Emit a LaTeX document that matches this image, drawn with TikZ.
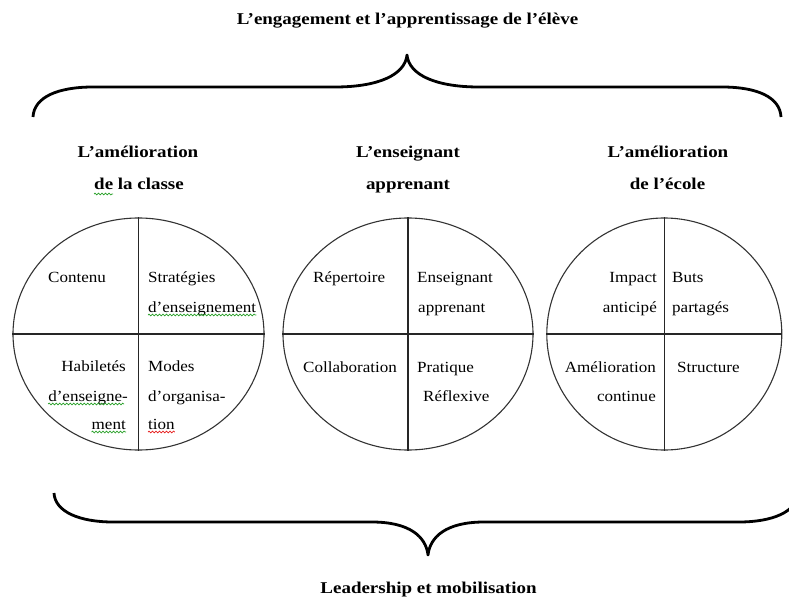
\documentclass[tikz,border=0pt]{standalone}
\usepackage{fontspec}
\setmainfont{Liberation Serif}
\newfontfamily\hdfont[FakeStretch=1.15]{Liberation Serif Bold}
\newfontfamily\cellfont[FakeStretch=1.1]{Liberation Serif}
\usetikzlibrary{shapes.geometric,decorations.pathmorphing}
\definecolor{spgreen}{RGB}{40,160,40}
\definecolor{spred}{RGB}{230,30,30}
\begin{document}
\begin{tikzpicture}[x=1pt,y=-1pt,
  head/.style={font=\hdfont\fontsize{16.5}{20}\selectfont, inner sep=0pt},
  cell/.style={font=\cellfont\fontsize{15.5}{19}\selectfont, inner sep=0pt},
  quad/.style={draw=black!80, line width=1.1pt, ellipse, inner sep=0pt, minimum height=232pt},
  divider/.style={draw=black!85, line width=1.1pt},
  bracestyle/.style={line width=2.8pt, line join=round},
  squig/.style={decorate, decoration={snake,amplitude=0.9pt,segment length=3.5pt}, line width=0.7pt, draw=spgreen},
  squigred/.style={squig, draw=spred}]

\useasboundingbox (0,0) rectangle (789,599);
\clip (0,0) rectangle (789,599);

% titles
\node[head, anchor=base] (title) at (407.5,25) {L’engagement et l’apprentissage de l’élève};
\node[head, anchor=base] (lead) at (428.5,593) {Leadership et mobilisation};

% braces
\draw[bracestyle] (33,117) .. controls (34,97) and (58,87) .. (93,87) -- (335,87)
  .. controls (378,87) and (405,75) .. (407,55)
  .. controls (409,75) and (436,87) .. (479,87) -- (722,87)
  .. controls (757,87) and (780,97) .. (781,117);
\draw[bracestyle] (54,493) .. controls (55,512) and (80,522) .. (113,522) -- (372,522)
  .. controls (410,522) and (426,537) .. (428,555)
  .. controls (430,537) and (446,522) .. (484,522) -- (739,522)
  .. controls (772,522) and (797,512) .. (798,493);

% ellipses
\node[quad, minimum width=251pt] (e1) at (138.5,334) {};
\node[quad, minimum width=250pt] (e2) at (408,334) {};
\node[quad, minimum width=235pt] (e3) at (664.3,334) {};
\foreach \e in {e1,e2,e3}{
  \draw[divider] (\e.north) -- (\e.south);
  \draw[divider] (\e.west) -- (\e.east);
}

% headings
\node[head, anchor=base] (h1a) at (138,157) {L’amélioration};
\node[head, anchor=base] (h1b) at (139,189) {de la classe};
\node[head, anchor=base] (h2a) at (408,157) {L’enseignant};
\node[head, anchor=base] (h2b) at (408,189) {apprenant};
\node[head, anchor=base] (h3a) at (668,157) {L’amélioration};
\node[head, anchor=base] (h3b) at (667.5,189) {de l’école};

% left circle
\node[cell, anchor=base west] (a1) at (48,282) {Contenu};
\node[cell, anchor=base west] (a2) at (148,282) {Stratégies};
\node[cell, anchor=base west] (a3) at (148,312) {d’enseignement};
\node[cell, anchor=base east] (a4) at (126,371) {Habiletés};
\node[cell, anchor=base east] (a5) at (128,401) {d’enseigne-};
\node[cell, anchor=base east] (a6) at (126,429) {ment};
\node[cell, anchor=base west] (a7) at (148,371) {Modes};
\node[cell, anchor=base west] (a8) at (148,401) {d’organisa-};
\node[cell, anchor=base west] (a9) at (148,429) {tion};

% middle circle
\node[cell, anchor=base west] (b1) at (313,282) {Répertoire};
\node[cell, anchor=base west] (b2) at (417,282) {Enseignant};
\node[cell, anchor=base west] (b3) at (418,312) {apprenant};
\node[cell, anchor=base west] (b4) at (303,372) {Collaboration};
\node[cell, anchor=base west] (b5) at (417,372) {Pratique};
\node[cell, anchor=base west] (b6) at (423,401) {Réflexive};

% right circle
\node[cell, anchor=base east] (c1) at (657,282) {Impact};
\node[cell, anchor=base east] (c2) at (657,312) {anticipé};
\node[cell, anchor=base west] (c3) at (672,282) {Buts};
\node[cell, anchor=base west] (c4) at (672,312) {partagés};
\node[cell, anchor=base east] (c5) at (656,372) {Amélioration};
\node[cell, anchor=base east] (c6) at (656,401) {continue};
\node[cell, anchor=base west] (c7) at (677,372) {Structure};

% spelling marks
\draw[squig] ([shift={(0,5)}]h1b.base west) -- ([shift={(19,5)}]h1b.base west);
\draw[squig] ([shift={(0,3)}]a3.base west) -- ([shift={(0,3)}]a3.base east);
\draw[squig] ([shift={(0,3)}]a5.base west) -- ([shift={(-4,3)}]a5.base east);
\draw[squig] ([shift={(0,3)}]a6.base west) -- ([shift={(0,3)}]a6.base east);
\draw[squigred] ([shift={(0,3)}]a9.base west) -- ([shift={(0,3)}]a9.base east);
\end{tikzpicture}
\end{document}
